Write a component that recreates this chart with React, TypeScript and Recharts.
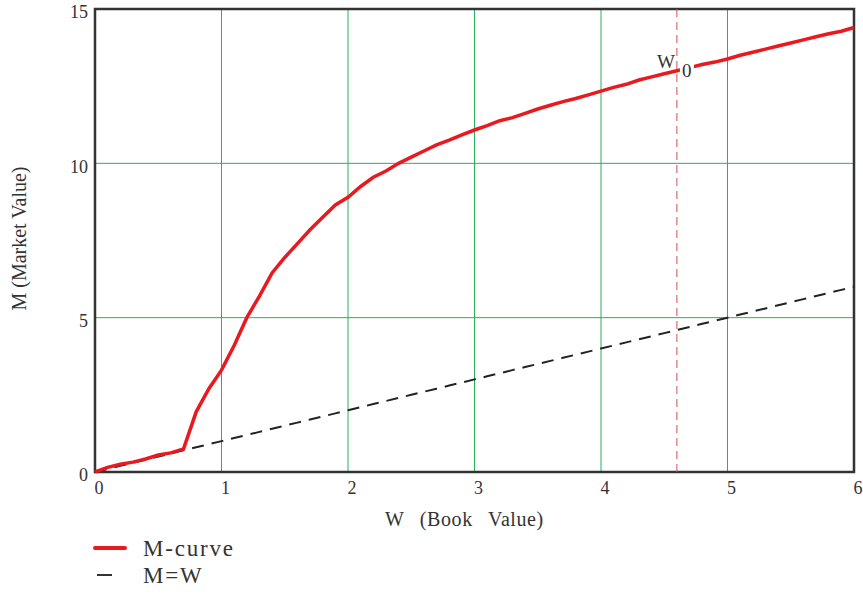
import React from 'react';
import {
  LineChart,
  Line,
  XAxis,
  YAxis,
  CartesianGrid,
  ReferenceLine,
  ReferenceArea,
} from 'recharts';

// values
const bookValues = [
  0, 0.1, 0.2, 0.3, 0.4, 0.5, 0.6, 0.7, 0.8, 0.9, 1.0, 1.1, 1.2, 1.3, 1.4, 1.5, 1.6, 1.7, 1.8, 1.9,
  2.0, 2.1, 2.2, 2.3, 2.4, 2.5, 2.6, 2.7, 2.8, 2.9, 3.0, 3.1, 3.2, 3.3, 3.4, 3.5, 3.6, 3.7, 3.8, 3.9,
  4.0, 4.1, 4.2, 4.3, 4.4, 4.5, 4.6, 4.7, 4.8, 4.9, 5.0, 5.1, 5.2, 5.3, 5.4, 5.5, 5.6, 5.7, 5.8, 5.9, 6.0,
];
const mCurve = [
  0, 0.15, 0.25, 0.32, 0.42, 0.55, 0.62, 0.75, 1.95, 2.7, 3.3, 4.1, 5.0, 5.7, 6.45, 6.95, 7.4, 7.85, 8.25, 8.65,
  8.9, 9.25, 9.55, 9.75, 10.0, 10.2, 10.4, 10.6, 10.75, 10.92, 11.08, 11.22, 11.38, 11.48, 11.62, 11.76, 11.88, 12.0, 12.1, 12.22,
  12.34, 12.46, 12.56, 12.7, 12.8, 12.9, 13.0, 13.1, 13.2, 13.28, 13.38, 13.5, 13.6, 13.7, 13.8, 13.9, 14.0, 14.1, 14.2, 14.28, 14.4,
];
const mEqualsW = [
  0, 0.1, 0.2, 0.3, 0.4, 0.5, 0.6, 0.7, 0.8, 0.9, 1.0, 1.1, 1.2, 1.3, 1.4, 1.5, 1.6, 1.7, 1.8, 1.9,
  2.0, 2.1, 2.2, 2.3, 2.4, 2.5, 2.6, 2.7, 2.8, 2.9, 3.0, 3.1, 3.2, 3.3, 3.4, 3.5, 3.6, 3.7, 3.8, 3.9,
  4.0, 4.1, 4.2, 4.3, 4.4, 4.5, 4.6, 4.7, 4.8, 4.9, 5.0, 5.1, 5.2, 5.3, 5.4, 5.5, 5.6, 5.7, 5.8, 5.9, 6.0,
];
const xTicks = [0, 1, 2, 3, 4, 5, 6];
const yTicks = [0, 5, 10, 15];
const w0 = 4.6;

const data = bookValues.map((w, i) => ({ w, m: mCurve[i], mw: mEqualsW[i] }));

const FONT = '"Liberation Serif", "Times New Roman", serif';
const tickStyle = { fontFamily: FONT, fontSize: 18, fill: '#333' };

const W0Label = (props: any) => {
  const { viewBox } = props;
  const x = viewBox.x;
  const y = viewBox.y;
  return (
    <g>
      <rect x={x + 3} y={y + 54} width={14} height={18} fill="#fff" />
      <text x={x - 20} y={y + 59} fontFamily={FONT} fontSize={19} fill="#333">W</text>
      <text x={x + 5} y={y + 68} fontFamily={FONT} fontSize={19} fill="#333">0</text>
    </g>
  );
};

const LegendBox = () => (
  <svg width={300} height={64} style={{ position: 'absolute', left: 0, top: 530 }}>
    <line x1={95} y1={18} x2={125} y2={18} stroke="#e8191f" strokeWidth={4} strokeLinecap="round" />
    <text x={143} y={26} fontFamily={FONT} fontSize={23} letterSpacing={1.8} fill="#333">M-curve</text>
    <line x1={97} y1={45} x2={112} y2={45} stroke="#333" strokeWidth={2} />
    <text x={143} y={53} fontFamily={FONT} fontSize={23} letterSpacing={1.8} fill="#333">M=W</text>
  </svg>
);

export default function App() {
  return (
    <div style={{ position: 'absolute', left: 0, top: 0, width: 863, height: 594, background: '#fff' }}>
      <LineChart width={863} height={594} data={data} margin={{ top: 9, right: 9, bottom: 0, left: 0 }}>
        <CartesianGrid stroke="#2cae5e" strokeWidth={1} />
        <XAxis
          dataKey="w"
          type="number"
          domain={[0, 6]}
          ticks={xTicks}
          height={122}
          axisLine={false}
          tickLine={false}
          tickSize={0}
          tickMargin={9}
          tick={{ ...tickStyle, dx: 4 }}
          interval={0}
          label={{
            value: 'W (Book Value)',
            position: 'insideTop',
            offset: 40,
            dx: -10,
            style: { fontFamily: FONT, fontSize: 20, fill: '#333', letterSpacing: 0.6, wordSpacing: 10 },
          }}
        />
        <YAxis
          type="number"
          domain={[0, 15]}
          ticks={yTicks}
          width={95}
          axisLine={false}
          tickLine={false}
          tickSize={0}
          tickMargin={7}
          tick={{ ...tickStyle, dy: 3 }}
          interval={0}
          label={{
            value: 'M (Market Value)',
            angle: -90,
            position: 'center',
            dx: -29,
            dy: -2,
            style: { fontFamily: FONT, fontSize: 20, fill: '#333', textAnchor: 'middle' },
          }}
        />
        <Line
          dataKey="mw"
          type="linear"
          stroke="#222"
          strokeWidth={2}
          strokeDasharray="12 8"
          dot={false}
          activeDot={false}
          isAnimationActive={false}
        />
        <Line
          dataKey="m"
          type="linear"
          stroke="#e8191f"
          strokeWidth={3.5}
          dot={false}
          activeDot={false}
          isAnimationActive={false}
        />
        <ReferenceLine x={w0} stroke="#d94a55" strokeWidth={1} strokeDasharray="8 5" label={<W0Label />} />
        <ReferenceArea x1={0} x2={6} y1={0} y2={15} fill="none" stroke="#333" strokeWidth={2.5} ifOverflow="visible" />
      </LineChart>
      <LegendBox />
    </div>
  );
}
